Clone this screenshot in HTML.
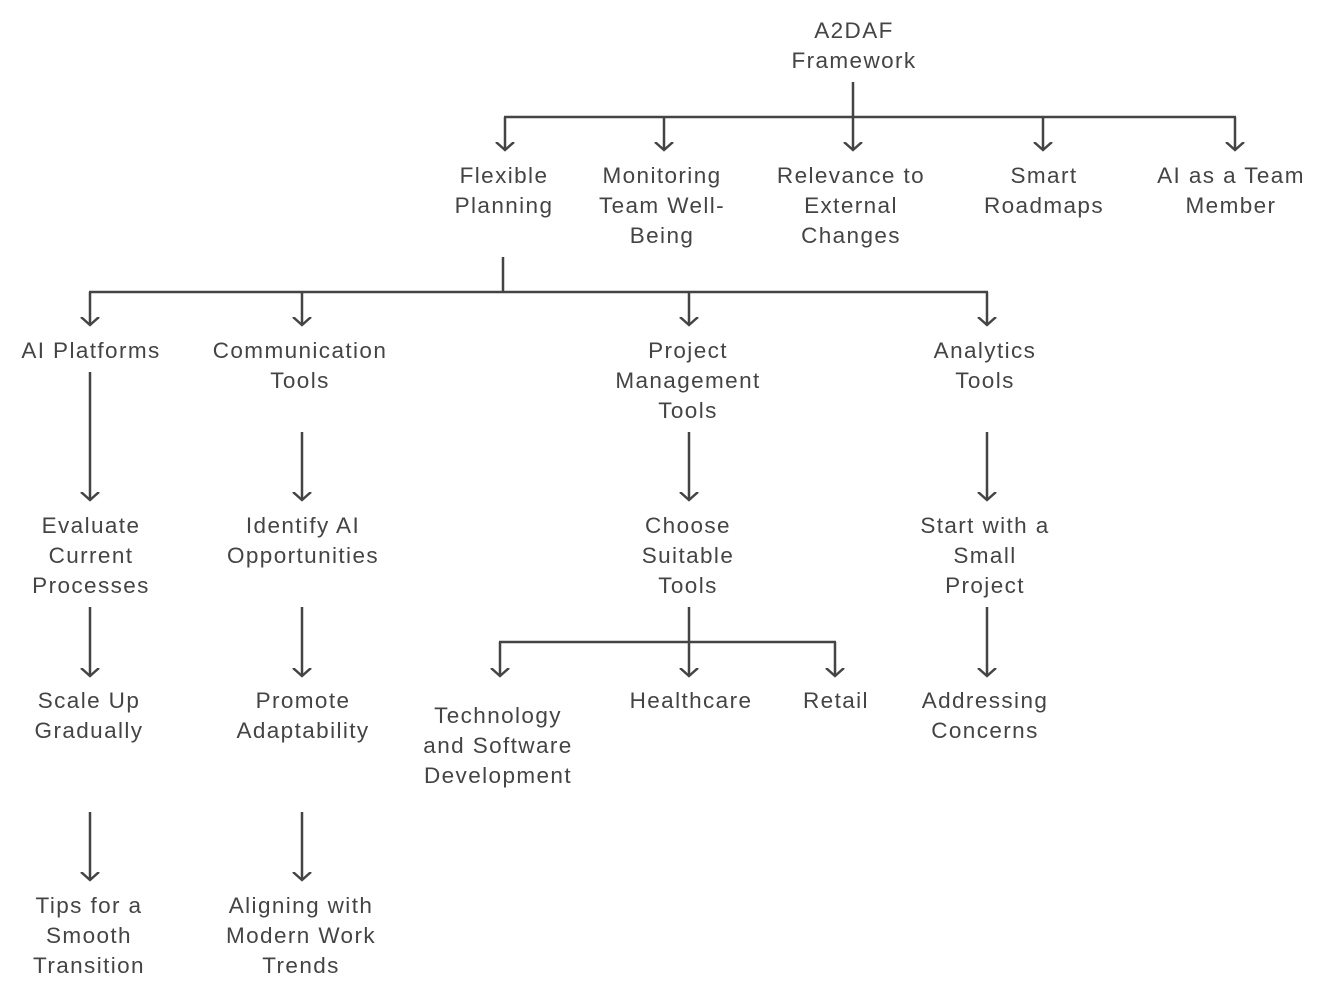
<!DOCTYPE html>
<html><head><meta charset="utf-8"><style>
html,body{margin:0;padding:0;background:#fff;}
svg text{font-family:"Liberation Sans",sans-serif;font-size:22.5px;letter-spacing:1.4px;fill:#444;text-anchor:middle;}
</style></head><body>
<svg width="1332" height="995" viewBox="0 0 1332 995" xmlns="http://www.w3.org/2000/svg">
<defs>
<marker id="a" markerWidth="20" markerHeight="20" refX="8" refY="10" orient="auto" markerUnits="userSpaceOnUse">
<path d="M0,1 L8,10 L0,19" fill="none" stroke="#444" stroke-width="2.5"/>
</marker>
</defs>
<g stroke="#444" stroke-width="2.5" fill="none">
<line x1="853" y1="82" x2="853" y2="117"/>
<line x1="504" y1="117" x2="1236" y2="117"/>
<line x1="505" y1="117" x2="505" y2="150" marker-end="url(#a)"/>
<line x1="664" y1="117" x2="664" y2="150" marker-end="url(#a)"/>
<line x1="853" y1="117" x2="853" y2="150" marker-end="url(#a)"/>
<line x1="1043" y1="117" x2="1043" y2="150" marker-end="url(#a)"/>
<line x1="1235" y1="117" x2="1235" y2="150" marker-end="url(#a)"/>
<line x1="503" y1="257" x2="503" y2="292"/>
<line x1="89" y1="292" x2="988" y2="292"/>
<line x1="90" y1="292" x2="90" y2="325" marker-end="url(#a)"/>
<line x1="302" y1="292" x2="302" y2="325" marker-end="url(#a)"/>
<line x1="689" y1="292" x2="689" y2="325" marker-end="url(#a)"/>
<line x1="987" y1="292" x2="987" y2="325" marker-end="url(#a)"/>
<line x1="90" y1="372" x2="90" y2="500" marker-end="url(#a)"/>
<line x1="302" y1="432" x2="302" y2="500" marker-end="url(#a)"/>
<line x1="689" y1="432" x2="689" y2="500" marker-end="url(#a)"/>
<line x1="987" y1="432" x2="987" y2="500" marker-end="url(#a)"/>
<line x1="90" y1="607" x2="90" y2="676" marker-end="url(#a)"/>
<line x1="302" y1="607" x2="302" y2="676" marker-end="url(#a)"/>
<line x1="987" y1="607" x2="987" y2="676" marker-end="url(#a)"/>
<line x1="689" y1="607" x2="689" y2="676" marker-end="url(#a)"/>
<line x1="499" y1="642" x2="836" y2="642"/>
<line x1="500" y1="642" x2="500" y2="676" marker-end="url(#a)"/>
<line x1="835" y1="642" x2="835" y2="676" marker-end="url(#a)"/>
<line x1="90" y1="812" x2="90" y2="880" marker-end="url(#a)"/>
<line x1="302" y1="812" x2="302" y2="880" marker-end="url(#a)"/>
</g>
<g transform="translate(1,-1)">
<text x="853" y="39">A2DAF</text><text x="853" y="69">Framework</text>
<text x="503" y="184">Flexible</text><text x="503" y="214">Planning</text>
<text x="661" y="184">Monitoring</text><text x="661" y="214">Team Well-</text><text x="661" y="244">Being</text>
<text x="850" y="184">Relevance to</text><text x="850" y="214">External</text><text x="850" y="244">Changes</text>
<text x="1043" y="184">Smart</text><text x="1043" y="214">Roadmaps</text>
<text x="1230" y="184">AI as a Team</text><text x="1230" y="214">Member</text>
<text x="90" y="359">AI Platforms</text>
<text x="299" y="359">Communication</text><text x="299" y="389">Tools</text>
<text x="687" y="359">Project</text><text x="687" y="389">Management</text><text x="687" y="419">Tools</text>
<text x="984" y="359">Analytics</text><text x="984" y="389">Tools</text>
<text x="90" y="534">Evaluate</text><text x="90" y="564">Current</text><text x="90" y="594">Processes</text>
<text x="302" y="534">Identify AI</text><text x="302" y="564">Opportunities</text>
<text x="687" y="534">Choose</text><text x="687" y="564">Suitable</text><text x="687" y="594">Tools</text>
<text x="984" y="534">Start with a</text><text x="984" y="564">Small</text><text x="984" y="594">Project</text>
<text x="88" y="709">Scale Up</text><text x="88" y="739">Gradually</text>
<text x="302" y="709">Promote</text><text x="302" y="739">Adaptability</text>
<text x="497" y="724">Technology</text><text x="497" y="754">and Software</text><text x="497" y="784">Development</text>
<text x="690" y="709">Healthcare</text>
<text x="835" y="709">Retail</text>
<text x="984" y="709">Addressing</text><text x="984" y="739">Concerns</text>
<text x="88" y="914">Tips for a</text><text x="88" y="944">Smooth</text><text x="88" y="974">Transition</text>
<text x="300" y="914">Aligning with</text><text x="300" y="944">Modern Work</text><text x="300" y="974">Trends</text>
</g>
</svg>
</body></html>
